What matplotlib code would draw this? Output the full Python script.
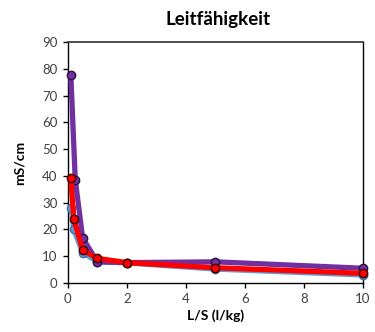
import matplotlib
matplotlib.use("Agg")
import matplotlib.pyplot as plt

# L/S ratios (l/kg) and conductivity (mS/cm) for three leaching series
ls_blue = [0.1, 0.2, 0.5, 1, 2, 5, 10]
cond_blue = [28, 20, 11.3, 8.0, 7.5, 5.2, 3.0]

ls_purple = [0.1, 0.25, 0.5, 1, 2, 5, 10]
cond_purple = [77.6, 38.5, 16.8, 7.9, 7.6, 7.9, 5.5]

ls_red = [0.1, 0.2, 0.5, 1, 2, 5, 10]
cond_red = [39.2, 23.9, 12.3, 9.2, 7.6, 5.7, 3.6]

x_ticks = [0, 2, 4, 6, 8, 10]
y_ticks = list(range(0, 91, 10))

plt.rcParams["font.family"] = ["Lato", "DejaVu Sans"]

fig = plt.figure(figsize=(3.75, 3.32), dpi=100)
ax = fig.add_axes([0.181, 0.1476, 0.787, 0.726])

series = [
    (ls_blue, cond_blue, "#5B9BD5", "#41719C", 3.8),
    (ls_purple, cond_purple, "#7030A0", "#2a0f3f", 3.8),
    (ls_red, cond_red, "#FF0000", "#3a0000", 3.8),
]
for xs, ys, col, edge, lw in series:
    ax.plot(xs, ys, color=col, lw=lw, marker="o", ms=6,
            mfc=col, mec=edge, mew=1.0, solid_joinstyle="round",
            clip_on=False, zorder=3)

ax.set_xlim(0, 10)
ax.set_ylim(0, 90)
ax.set_xticks(x_ticks)
ax.set_yticks(y_ticks)
ax.tick_params(axis="both", direction="out", length=3.5, width=1,
               labelsize=9.5, labelcolor="#404040", color="#000000", pad=4)
for side in ["left", "bottom", "right"]:
    ax.spines[side].set_color("#000000")
    ax.spines[side].set_linewidth(1.0)
ax.spines["top"].set_color("#404040")
ax.spines["top"].set_linewidth(1.3)

ax.set_xlabel("L/S (l/kg)", fontsize=10, fontweight="bold", labelpad=3)
ax.set_ylabel("mS/cm", fontsize=10, fontweight="bold", labelpad=12)
fig.text(0.582, 0.94, "Leitfähigkeit", ha="center", va="center",
         fontsize=13.5, fontweight="bold")

fig.savefig("out.png", dpi=100)
